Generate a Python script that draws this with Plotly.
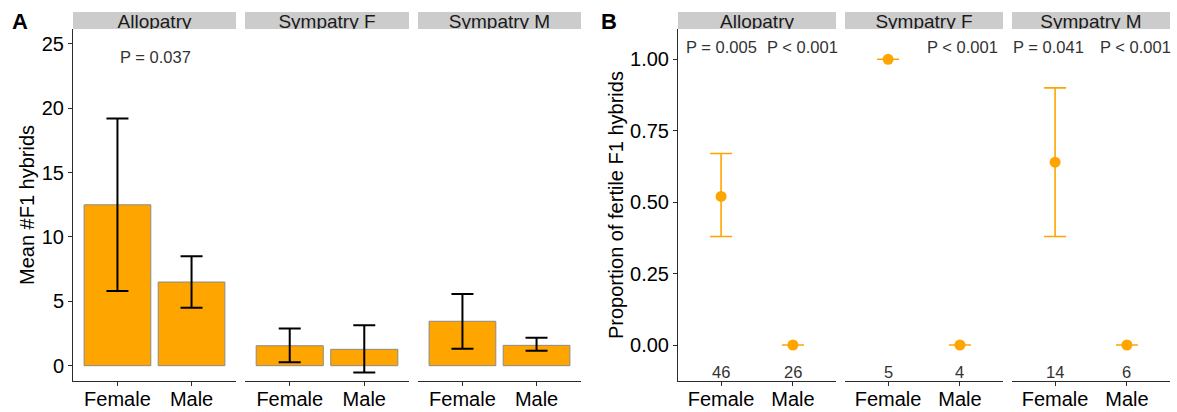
import plotly.graph_objects as go

W, H = 1177, 412

# ---------------- data ----------------
sexes = ["Female", "Male"]
populations = ["Allopatry", "Sympatry F", "Sympatry M"]

# Panel A: mean number of F1 hybrids (bar) with interval
a_mean = [[12.5, 6.5], [1.55, 1.27], [3.45, 1.58]]
a_lower = [[5.8, 4.5], [0.26, -0.52], [1.32, 1.17]]
a_upper = [[19.2, 8.5], [2.88, 3.15], [5.57, 2.18]]
a_pvals = ["P = 0.037", "", ""]
a_yticks = [0, 5, 10, 15, 20, 25]

# Panel B: proportion of fertile F1 hybrids with interval
b_prop = [[0.52, 0.0], [1.0, 0.0], [0.64, 0.0]]
b_lower = [[0.38, 0.0], [1.0, 0.0], [0.38, 0.0]]
b_upper = [[0.67, 0.0], [1.0, 0.0], [0.90, 0.0]]
b_n = [[46, 26], [5, 4], [14, 6]]
b_pvals = [["P = 0.005", "P < 0.001"], ["", "P < 0.001"], ["P = 0.041", "P < 0.001"]]
b_pval_x = [[0.0, 1.14], [0.0, 1.03], [-0.09, 1.12]]
b_yticks = [0.0, 0.25, 0.5, 0.75, 1.0]
b_yticklabels = ["0.00", "0.25", "0.50", "0.75", "1.00"]

# ---------------- layout geometry (pixels) ----------------
A_X = [(73, 236), (245, 409), (418, 581)]
B_X = [(678, 836), (845, 1003), (1012, 1170)]
PLOT_TOP, PLOT_BOT, STRIP_TOP = 29, 381, 12

def px(x):
    return x / W

def py(y):
    return 1 - y / H

ORANGE = "#FFA500"
AXC = "#2b2b2b"
FONT = "Liberation Sans, Arial, sans-serif"
TICK_SIZE = 20

fig = go.Figure()
layout = dict(
    width=W, height=H, margin=dict(l=0, r=0, t=0, b=0, autoexpand=False),
    paper_bgcolor="white", plot_bgcolor="white", showlegend=False,
    font=dict(family=FONT, color="black"),
)

xdom_all = A_X + B_X
axis_names = ["x", "x2", "x3", "x4", "x5", "x6"]
for i, (x0, x1) in enumerate(xdom_all):
    key = "xaxis" if i == 0 else f"xaxis{i+1}"
    layout[key] = dict(
        domain=[px(x0), px(x1)], anchor="y" if i < 3 else "y2",
        type="category", categoryorder="array", categoryarray=sexes,
        range=[-0.6, 1.6], showline=True, linecolor=AXC, linewidth=1,
        ticks="outside", ticklen=4, tickcolor=AXC, tickwidth=1,
        tickfont=dict(size=TICK_SIZE, color="black", family=FONT),
        ticklabelstandoff=-4,
        showgrid=False, zeroline=False, fixedrange=True, automargin=False,
    )

layout["yaxis"] = dict(
    domain=[py(PLOT_BOT), py(PLOT_TOP)], anchor="x", range=[-1.19, 26.16],
    tickvals=a_yticks, showline=True, linecolor=AXC, linewidth=1,
    ticks="outside", ticklen=4, tickcolor=AXC, tickwidth=1,
    tickfont=dict(size=TICK_SIZE, color="black", family=FONT),
    showgrid=False, zeroline=False, fixedrange=True, automargin=False,
)
layout["yaxis2"] = dict(
    domain=[py(PLOT_BOT), py(PLOT_TOP)], anchor="x4", range=[-0.126, 1.106],
    tickvals=b_yticks, ticktext=b_yticklabels, showline=True, linecolor=AXC,
    linewidth=1, ticks="outside", ticklen=4, tickcolor=AXC, tickwidth=1,
    tickfont=dict(size=TICK_SIZE, color="black", family=FONT),
    showgrid=False, zeroline=False, fixedrange=True, automargin=False,
)
# overlay axes (pixel coordinates) for clipped strip labels
layout["xaxis7"] = dict(domain=[0, 1], anchor="y3", range=[0, W], visible=False,
                        fixedrange=True, automargin=False)
layout["yaxis3"] = dict(domain=[py(PLOT_TOP), py(STRIP_TOP)], anchor="x7",
                        range=[PLOT_TOP, STRIP_TOP], visible=False, fixedrange=True,
                        automargin=False)

# ---------------- panel A bars ----------------
for i, pop in enumerate(populations):
    xa = axis_names[i]
    fig.add_trace(go.Bar(
        x=sexes, y=a_mean[i], width=0.9, xaxis=xa, yaxis="y",
        marker=dict(color=ORANGE, line=dict(color="#8a8a8a", width=1)),
        error_y=dict(type="data", symmetric=False,
                     array=[u - m for u, m in zip(a_upper[i], a_mean[i])],
                     arrayminus=[m - l for m, l in zip(a_mean[i], a_lower[i])],
                     color="black", thickness=2, width=11),
        hoverinfo="skip",
    ))

# ---------------- panel B points ----------------
for i, pop in enumerate(populations):
    xa = axis_names[i + 3]
    fig.add_trace(go.Scatter(
        x=sexes, y=b_prop[i], mode="markers", xaxis=xa, yaxis="y2",
        marker=dict(color=ORANGE, size=11),
        error_y=dict(type="data", symmetric=False,
                     array=[u - m for u, m in zip(b_upper[i], b_prop[i])],
                     arrayminus=[m - l for m, l in zip(b_prop[i], b_lower[i])],
                     color=ORANGE, thickness=1.6, width=11),
        hoverinfo="skip", cliponaxis=False,
    ))

# ---------------- strips ----------------
shapes = []
strip_x, strip_txt = [], []
for group in (A_X, B_X):
    for (x0, x1), pop in zip(group, populations):
        shapes.append(dict(type="rect", xref="paper", yref="paper", layer="below",
                           x0=px(x0), x1=px(x1), y0=py(PLOT_TOP), y1=py(STRIP_TOP),
                           fillcolor="#CCCCCC", line=dict(width=0)))
        strip_x.append((x0 + x1) / 2)
        strip_txt.append(pop)
fig.add_trace(go.Scatter(
    x=strip_x, y=[23.2] * len(strip_x), text=strip_txt, mode="text",
    xaxis="x7", yaxis="y3", textposition="middle center", cliponaxis=True,
    textfont=dict(size=19, color="#1a1a1a", family=FONT), hoverinfo="skip",
))
layout["shapes"] = shapes

# ---------------- annotations ----------------
ann = []
TXT = "#333333"
for i, p in enumerate(a_pvals):
    if p:
        ann.append(dict(text=p, x=0.52, y=24.0, xref=axis_names[i], yref="y",
                        showarrow=False, font=dict(size=16.5, color=TXT, family=FONT),
                        xanchor="center", yanchor="middle"))
for i in range(3):
    for j in range(2):
        if b_pvals[i][j]:
            ann.append(dict(text=b_pvals[i][j], x=b_pval_x[i][j], y=1.044,
                            xref=axis_names[i + 3], yref="y2", showarrow=False,
                            font=dict(size=16.5, color=TXT, family=FONT),
                            xanchor="center", yanchor="middle"))
        ann.append(dict(text=str(b_n[i][j]), x=j, y=-0.093,
                        xref=axis_names[i + 3], yref="y2", showarrow=False,
                        font=dict(size=16.5, color=TXT, family=FONT),
                        xanchor="center", yanchor="middle"))

ann.append(dict(text="Mean #F1 hybrids", textangle=-90, x=px(27), y=py(205),
                xref="paper", yref="paper", showarrow=False,
                font=dict(size=20, color="black", family=FONT),
                xanchor="center", yanchor="middle"))
ann.append(dict(text="Proportion of fertile F1 hybrids", textangle=-90, x=px(616),
                y=py(205), xref="paper", yref="paper", showarrow=False,
                font=dict(size=20, color="black", family=FONT),
                xanchor="center", yanchor="middle"))
ann.append(dict(text="<b>A</b>", x=px(19.5), y=py(22), xref="paper", yref="paper",
                showarrow=False, font=dict(size=22, color="black", family=FONT),
                xanchor="center", yanchor="middle"))
ann.append(dict(text="<b>B</b>", x=px(609), y=py(22), xref="paper", yref="paper",
                showarrow=False, font=dict(size=22, color="black", family=FONT),
                xanchor="center", yanchor="middle"))
layout["annotations"] = ann

fig.update_layout(**layout)
fig.write_html("out.html")
